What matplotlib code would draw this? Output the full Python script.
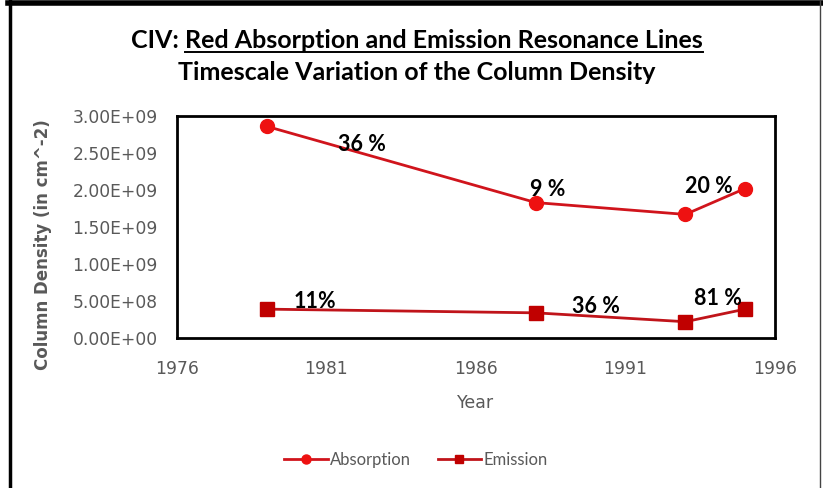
import matplotlib
matplotlib.use("Agg")
import matplotlib.pyplot as plt
from matplotlib.lines import Line2D
from matplotlib.ticker import FuncFormatter

# column density, CIV red resonance lines
years = [1979, 1988, 1993, 1995]
absorption = [2.86e9, 1.83e9, 1.67e9, 2.02e9]
emission = [0.39e9, 0.34e9, 0.22e9, 0.39e9]

# percentage change labels (text, x, y)
abs_labels = [("36 %", 1982.2, 2.62e9), ("9 %", 1988.4, 2.00e9), ("20 %", 1993.8, 2.05e9)]
emi_labels = [("11%", 1980.6, 0.50e9), ("36 %", 1990.0, 0.42e9), ("81 %", 1994.1, 0.54e9)]

xticks = [1976, 1981, 1986, 1991, 1996]
yticks = [0, 0.5e9, 1.0e9, 1.5e9, 2.0e9, 2.5e9, 3.0e9]

grey = "#595959"
title_font = ["Lato", "DejaVu Sans"]

fig = plt.figure(figsize=(8.23, 4.88), dpi=100)
W, H = 823, 488

# outer frame
fig.add_artist(Line2D([8 / W, 1], [1 - 2.5 / H, 1 - 2.5 / H], color="black", lw=4, transform=fig.transFigure))
fig.add_artist(Line2D([9.5 / W, 9.5 / W], [0, 1], color="black", lw=2.5, transform=fig.transFigure))
fig.add_artist(Line2D([820 / W, 820 / W], [0, 1], color="#444444", lw=1, transform=fig.transFigure))

ax = fig.add_axes([177 / W, 1 - 338 / H, 598 / W, 222 / H])
ax.plot(years, absorption, color="#d0141c", lw=2, marker="o", ms=10,
        mfc="#ee1111", mec="#ee1111", label="Absorption")
ax.plot(years, emission, color="#c0141a", lw=2, marker="s", ms=9.5,
        mfc="#c00000", mec="#c00000", label="Emission")

for txt, x, y in abs_labels + emi_labels:
    ax.text(x, y, txt, ha="center", va="center", fontsize=15.5,
            fontweight="bold", family=title_font, color="black")

ax.set_xlim(1976, 1996)
ax.set_ylim(0, 3.0e9)
ax.set_xticks(xticks)
ax.set_yticks(yticks)
ax.yaxis.set_major_formatter(FuncFormatter(lambda v, p: "{:.2E}".format(v)))
ax.tick_params(length=0, labelsize=12.3, labelcolor=grey)
ax.tick_params(axis="x", pad=16)
ax.tick_params(axis="y", pad=14)
for s in ax.spines.values():
    s.set_linewidth(2)
    s.set_color("black")

ax.set_xlabel("Year", fontsize=12.5, color=grey, labelpad=11)
ax.set_ylabel("Column Density (in cm^-2)", fontsize=12, color=grey, fontweight="bold")
ax.yaxis.set_label_coords(-0.209, 0.42)

leg = fig.legend(loc="center", bbox_to_anchor=(416 / W, 1 - 460 / H), ncol=2,
                 frameon=False, handlelength=2.6, handletextpad=0.15,
                 columnspacing=1.6, markerscale=0.65, prop={"family": title_font, "size": 12})
for t in leg.get_texts():
    t.set_color(grey)

# title: first line with underlined part
fig.canvas.draw()
r = fig.canvas.get_renderer()
t1 = fig.text(0, 1 - 40 / H, "CIV: ", fontsize=18, fontweight="bold", family=title_font, va="center")
t2 = fig.text(0, 1 - 40 / H, "Red Absorption and Emission Resonance Lines", fontsize=18,
              fontweight="bold", family=title_font, va="center")
w1 = t1.get_window_extent(r).width
w2 = t2.get_window_extent(r).width
x0 = 417 - (w1 + w2) / 2
t1.set_x(x0 / W)
t2.set_x((x0 + w1) / W)
fig.add_artist(Line2D([(x0 + w1) / W, (x0 + w1 + w2) / W], [1 - 52 / H, 1 - 52 / H],
                      color="black", lw=1.4, transform=fig.transFigure))
fig.text(417 / W, 1 - 73 / H, "Timescale Variation of the Column Density", fontsize=18,
         fontweight="bold", family=title_font, ha="center", va="center")

fig.savefig("out.png", dpi=100)
